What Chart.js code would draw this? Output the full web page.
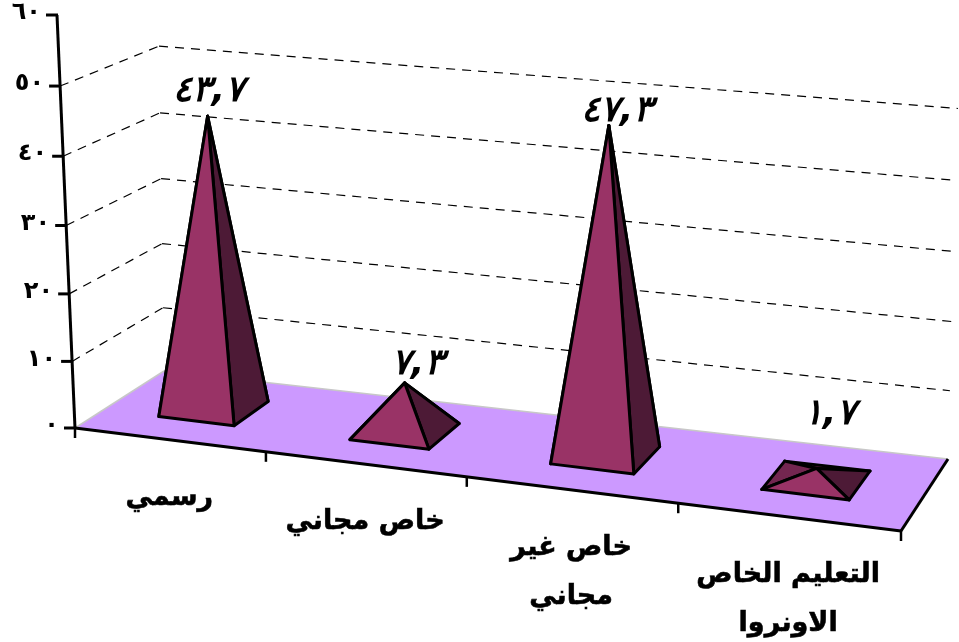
<!DOCTYPE html>
<html lang="ar">
<head>
<meta charset="utf-8">
<style>html,body{margin:0;padding:0;background:#fff}#box{position:relative;width:959px;height:642px}</style>
<script src="https://cdn.jsdelivr.net/npm/chart.js@4/dist/chart.umd.min.js"></script>
</head>
<body>
<div id="box"><canvas id="c"></canvas></div>
<script>
const categories = ['رسمي', 'خاص مجاني', ['خاص غير', 'مجاني'], ['التعليم الخاص', 'الاونروا']];
const values = [43.7, 7.3, 47.3, 1.7];
const valueLabels = ['٤٣,٧', '٧,٣', '٤٧,٣', '١,٧'];
const yTickLabels = ['٠', '١٠', '٢٠', '٣٠', '٤٠', '٥٠', '٦٠'];

const FONT = '"DejaVu Sans"';
// Perspective of the floor (screen corners) and of the vertical direction at each corner
const floorCorners = {A: [75, 428], B: [901, 531], C: [948, 459], D: [164, 371]};
const rise = {A: [-0.0436, 1], B: [0.038, 1.075], C: [0.029, 1.025], D: [-0.0145, 0.95]};
const depthRange = [0.305, 0.715];
const labelShift = [[1, -24], [13, -18], [8, -14], [13, -54]];
const heightBend = 9.4e-5;

function homography() {
  const {A, B, C, D} = floorCorners;
  const dx1 = B[0] - C[0], dx2 = D[0] - C[0], sx = A[0] - B[0] + C[0] - D[0];
  const dy1 = B[1] - C[1], dy2 = D[1] - C[1], sy = A[1] - B[1] + C[1] - D[1];
  const den = dx1 * dy2 - dx2 * dy1;
  const g = (sx * dy2 - dx2 * sy) / den, h = (dx1 * sy - sx * dy1) / den;
  return {g, h, a: B[0] - A[0] + g * B[0], b: D[0] - A[0] + h * D[0], c: A[0],
          d: B[1] - A[1] + g * B[1], e: D[1] - A[1] + h * D[1], f: A[1]};
}
const H = homography();
let fullHeight = 413;
function project(u, v, hpx) {
  const uu = u + 0.04 * u * (1 - u);
  const w = H.g * uu + H.h * v + 1;
  const x = (H.a * uu + H.b * v + H.c) / w, y = (H.d * uu + H.e * v + H.f) / w;
  const mix = i => (1 - u) * (1 - v) * rise.A[i] + u * (1 - v) * rise.B[i] + u * v * rise.C[i] + (1 - u) * v * rise.D[i];
  const bent = hpx - heightBend * hpx * (fullHeight - hpx);
  return [x + mix(0) * bent, y - mix(1) * bent];
}
function poly(ctx, pts, fill, stroke, lw) {
  ctx.beginPath();
  pts.forEach((p, i) => i ? ctx.lineTo(p[0], p[1]) : ctx.moveTo(p[0], p[1]));
  ctx.closePath();
  if (fill) { ctx.fillStyle = fill; ctx.fill(); }
  if (stroke) { ctx.strokeStyle = stroke; ctx.lineWidth = lw; ctx.stroke(); }
}
function seg(ctx, a, b, color, lw, dash) {
  ctx.beginPath(); ctx.setLineDash(dash || []);
  ctx.moveTo(a[0], a[1]); ctx.lineTo(b[0], b[1]);
  ctx.strokeStyle = color; ctx.lineWidth = lw; ctx.stroke(); ctx.setLineDash([]);
}

const pyramid3d = {
  id: 'pyramid3d',
  beforeDatasetsDraw(chart) {
    const ctx = chart.ctx, ys = chart.scales.y;
    const zero = ys.getPixelForValue(0);
    const hOf = val => zero - ys.getPixelForValue(val);
    fullHeight = hOf(ys.max);
    ctx.save();
    // floor
    poly(ctx, [project(0, 0, 0), project(1, 0, 0), project(1, 1, 0), project(0, 1, 0)], '#cc99ff');
    seg(ctx, project(0, 0, 0), project(0, 1, 0), '#c8c8c8', 1.5);
    seg(ctx, project(0, 1, 0), project(1, 1, 0), '#c8c8c8', 1.5);
    // grid
    ys.ticks.forEach(t => {
      if (t.value === 0 || t.value === ys.max) return;
      const h = hOf(t.value);
      seg(ctx, project(0, 0, h), project(0, 1, h), '#000', 1.2, [9, 7]);
      seg(ctx, project(0, 1, h), project(1, 1, h), '#000', 1.2, [9, 7]);
    });
    // floor front edges
    seg(ctx, project(0, 0, 0), project(1, 0, 0), '#000', 3);
    seg(ctx, project(1, 0, 0), project(1, 1, 0), '#000', 3);
    // vertical axis
    seg(ctx, project(0, 0, 0), project(0, 0, hOf(ys.max)), '#000', 3);
    ctx.font = 'bold 24px ' + FONT;
    ctx.textAlign = 'right'; ctx.textBaseline = 'middle';
    ctx.fillStyle = '#000';
    if ('letterSpacing' in ctx) ctx.letterSpacing = '9px';
    ys.ticks.forEach((t, i) => {
      const p = project(0, 0, hOf(t.value));
      seg(ctx, [p[0] - 11, p[1]], [p[0] + 1, p[1]], '#000', 3);
      ctx.fillStyle = '#000';
      ctx.fillText(yTickLabels[i], p[0] - 16, p[1] - 2);
    });
    if ('letterSpacing' in ctx) ctx.letterSpacing = '0px';
    // category ticks and labels
    const n = categories.length;
    for (let i = 0; i <= n; i++) {
      const p = project(i / n, 0, 0);
      seg(ctx, [p[0], p[1]], [p[0], p[1] + 10], '#000', 2.5);
    }
    ctx.font = 'bold 27px ' + FONT;
    ctx.textAlign = 'center';
    ctx.fillStyle = '#000';
    ctx.strokeStyle = '#000';
    ctx.lineWidth = 0.6;
    categories.forEach((lab, i) => {
      const p = project((i + 0.5) / n, 0, 0);
      [].concat(lab).forEach((line, k) => {
        const y = p[1] + 58 + k * 49;
        ctx.fillText(line, p[0], y);
        ctx.strokeText(line, p[0], y);
      });
    });
    ctx.restore();
  },
  beforeDatasetDraw() { return false; },
  afterDatasetsDraw(chart) {
    const ctx = chart.ctx, area = chart.chartArea, meta = chart.getDatasetMeta(0);
    const ds = chart.data.datasets[0];
    ctx.save();
    ctx.lineJoin = 'round';
    meta.data.forEach((el, i) => {
      const u = (el.x - area.left) / area.width, du = el.width / area.width / 2;
      const hp = el.base - el.y;
      const [v0, v1] = depthRange;
      const fl = project(u - du, v0, 0), fr = project(u + du, v0, 0),
            br = project(u + du, v1, 0), bl = project(u - du, v1, 0),
            apex = project(u, (v0 + v1) / 2, hp);
      poly(ctx, [bl, br, apex], ds.backColor, '#000', 3);
      poly(ctx, [fl, bl, apex], ds.leftColor, '#000', 3);
      poly(ctx, [fr, br, apex], ds.rightColor, '#000', 3);
      poly(ctx, [fl, fr, apex], ds.backgroundColor, '#000', 3);
      ctx.font = 'italic bold 36px ' + FONT;
      ctx.textAlign = 'center'; ctx.textBaseline = 'middle';
      ctx.fillStyle = '#000';
      ctx.fillText(valueLabels[i], apex[0] + labelShift[i][0], apex[1] + labelShift[i][1]);
    });
    ctx.restore();
  }
};

new Chart(document.getElementById('c'), {
  type: 'bar',
  data: {
    labels: categories,
    datasets: [{
      data: values,
      backgroundColor: '#993366',
      rightColor: '#4d1a36',
      leftColor: '#732650',
      backColor: '#4d1a36',
      barPercentage: 0.4,
      categoryPercentage: 1
    }]
  },
  options: {
    responsive: true,
    maintainAspectRatio: false,
    animation: false,
    layout: {padding: {left: 75, right: 58, top: 15, bottom: 214}},
    plugins: {legend: {display: false}, tooltip: {enabled: false}},
    scales: {
      x: {display: false},
      y: {display: false, min: 0, max: 60, ticks: {stepSize: 10}}
    }
  },
  plugins: [pyramid3d]
});
</script>
</body>
</html>
